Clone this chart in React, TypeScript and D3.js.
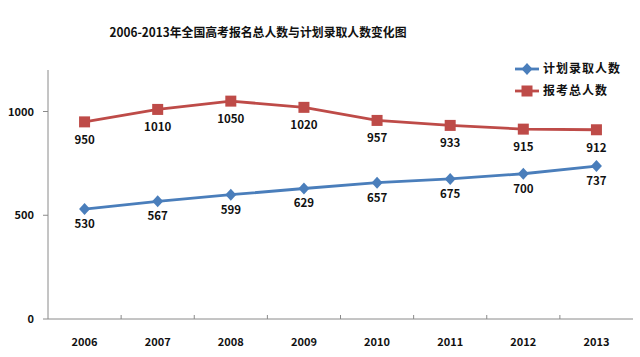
import React from "react";
import * as d3 from "d3";

const years = ["2006", "2007", "2008", "2009", "2010", "2011", "2012", "2013"];
const planned = [530, 567, 599, 629, 657, 675, 700, 737];
const applicants = [950, 1010, 1050, 1020, 957, 933, 915, 912];
const yTicks = [0, 500, 1000];
const seriesNames = ["计划录取人数", "报考总人数"];
const title = "2006-2013年全国高考报名总人数与计划录取人数变化图";

const W = 640;
const H = 357;
const FONT = "'Noto Sans CJK SC', 'Noto Sans', sans-serif";
const BLUE = "#4A7EBB";
const RED = "#BE4B48";
const AXIS = "#8a8a8a";

export default function App() {
  const x0 = 48, x1 = 633, yTop = 70, yBot = 319;
  const x = d3.scaleBand<string>().domain(years).range([x0, x1]);
  const y = d3.scaleLinear().domain([0, 1200]).range([yBot, yTop]);
  const cx = (d: string) => (x(d) as number) + x.bandwidth() / 2;
  const line = d3.line<number>().x((_, i) => cx(years[i])).y((v) => y(v));

  const series = [
    { name: seriesNames[0], data: planned, color: BLUE, marker: "diamond", dy: 15 },
    { name: seriesNames[1], data: applicants, color: RED, marker: "square", dy: 18 },
  ];

  const marker = (kind: string, px: number, py: number, color: string, key?: any) =>
    kind === "square" ? (
      <rect key={key} x={px - 5.5} y={py - 5.5} width={11} height={11} fill={color} />
    ) : (
      <path key={key} d={`M${px},${py - 6}L${px + 5.5},${py}L${px},${py + 6}L${px - 5.5},${py}Z`} fill={color} />
    );

  return (
    <svg width={W} height={H} style={{ position: "absolute", left: 0, top: 0, background: "#fff" }} fontFamily={FONT}>
      <rect width={W} height={H} fill="#fff" />
      <text x={258} y={37} textAnchor="middle" fontSize={12.5} fontWeight="bold" fill="#111" textLength={297} lengthAdjust="spacingAndGlyphs">
        {title}
      </text>
      {/* axes */}
      <line x1={x0} x2={x0} y1={yTop} y2={yBot} stroke={AXIS} strokeWidth={1} />
      <line x1={x0} x2={x1} y1={yBot} y2={yBot} stroke={AXIS} strokeWidth={1} />
      {yTicks.map((t) => (
        <g key={t}>
          <line x1={x0 - 5} x2={x0} y1={y(t)} y2={y(t)} stroke={AXIS} />
          <text x={34} y={y(t) + 4} textAnchor="end" fontSize={11} fontWeight="bold" fill="#111">
            {t}
          </text>
        </g>
      ))}
      {years.map((yr, i) => (
        <g key={yr}>
          {i > 0 && <line x1={x(yr)} x2={x(yr)} y1={yBot - 4} y2={yBot} stroke={AXIS} />}
          <text x={cx(yr)} y={346} textAnchor="middle" fontSize={11} fontWeight="bold" fill="#111">
            {yr}
          </text>
        </g>
      ))}
      {series.map((s) => (
        <g key={s.name}>
          <path d={line(s.data) as string} fill="none" stroke={s.color} strokeWidth={2.8} />
          {s.data.map((v, i) => marker(s.marker, cx(years[i]), y(v), s.color, i))}
          {s.data.map((v, i) => (
            <text key={"l" + i} x={cx(years[i])} y={y(v) + s.dy + 4} textAnchor="middle" fontSize={11.5} fontWeight="bold" fill="#111">
              {v}
            </text>
          ))}
        </g>
      ))}
      {/* legend */}
      {series.map((s, i) => {
        const ly = 69 + i * 22;
        return (
          <g key={"leg" + i}>
            <line x1={515} x2={539} y1={ly} y2={ly} stroke={s.color} strokeWidth={2.8} />
            {marker(s.marker, 527, ly, s.color)}
            <text x={543} y={ly + 4} fontSize={12} fontWeight="bold" fill="#111" letterSpacing={1}>
              {s.name}
            </text>
          </g>
        );
      })}
    </svg>
  );
}
